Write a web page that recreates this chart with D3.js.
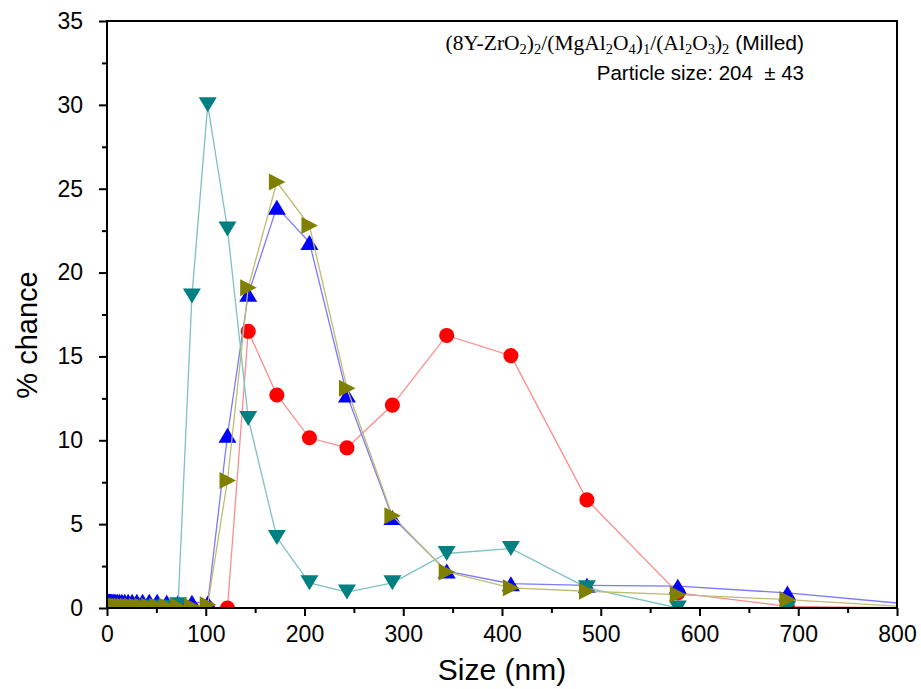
<!DOCTYPE html>
<html>
<head>
<meta charset="utf-8">
<script src="https://cdn.jsdelivr.net/npm/d3@7"></script>
<style>
  html, body { margin: 0; padding: 0; background: #fff; }
  svg { display: block; }
  .tick text { font-family: "Liberation Sans", Arial, sans-serif; }
</style>
</head>
<body>
<div id="chart"></div>
<script>
// ── Data ──
const sizes = [0.8, 1.0, 1.1, 1.3, 1.6, 1.9, 2.2, 2.7, 3.2, 3.8, 4.5, 5.3, 6.3, 7.5, 9.0,
  10.7, 12.7, 15.1, 18.0, 21.4, 25.4, 30.2, 36.0, 42.8, 50.8, 60.5,
  72, 86, 102, 122, 143, 172, 205, 243, 289, 344, 409, 486, 578, 689, 818];

const redVals = [0, 0, 0, 0, 0, 0, 0, 0, 0, 0, 0, 0, 0, 0, 0,
  0, 0, 0, 0, 0, 0, 0, 0, 0, 0, 0,
  0, 0, 0, 0, 16.5, 12.7, 10.15, 9.55, 12.1, 16.25, 15.05, 6.45, 0.9, 0.1, 0];

const blueVals = [0.4, 0.4, 0.4, 0.4, 0.4, 0.4, 0.4, 0.4, 0.4, 0.4, 0.4, 0.4, 0.4, 0.4, 0.4,
  0.4, 0.4, 0.4, 0.4, 0.4, 0.4, 0.4, 0.4, 0.4, 0.4, 0.35,
  0.35, 0.35, 0.3, 10.3, 18.7, 23.9, 21.8, 12.7, 5.4, 2.2, 1.45, 1.35, 1.3, 0.9, 0.2];

const tealVals = [0.05, 0.05, 0.05, 0.05, 0.05, 0.05, 0.05, 0.05, 0.05, 0.05, 0.05, 0.05, 0.05, 0.05, 0.05,
  0.05, 0.05, 0.05, 0.05, 0.05, 0.05, 0.05, 0.05, 0.05, 0.05, 0.05,
  0.2, 18.6, 30.0, 22.6, 11.3, 4.2, 1.5, 0.95, 1.5, 3.25, 3.55, 1.2, 0, 0, 0];

const oliveVals = [0.1, 0.1, 0.1, 0.1, 0.1, 0.1, 0.1, 0.1, 0.1, 0.1, 0.1, 0.1, 0.1, 0.1, 0.1,
  0.1, 0.1, 0.1, 0.1, 0.1, 0.1, 0.1, 0.1, 0.1, 0.1, 0.1,
  0.1, 0.1, 0.2, 7.6, 19.1, 25.4, 22.8, 13.1, 5.5, 2.15, 1.2, 1.0, 0.8, 0.5, 0.05];

const xTicks = [0, 100, 200, 300, 400, 500, 600, 700, 800];
const xMinor = [50, 150, 250, 350, 450, 550, 650, 750];
const yTicks = [0, 5, 10, 15, 20, 25, 30, 35];
const yMinor = [2.5, 7.5, 12.5, 17.5, 22.5, 27.5, 32.5];

(function () {
    "use strict";

    const W = 921, H = 689;
    const left = 107, right = 897, top = 21, bottom = 608;
    const sans = '"Liberation Sans", Arial, sans-serif';
    const serif = '"Liberation Serif", "Times New Roman", serif';

    // ── Series styles ──
    const series = [
        { vals: redVals,   shape: "circle", fill: "#ff0000", line: "#ff8c8c" },
        { vals: blueVals,  shape: "up",     fill: "#0000ff", line: "#7a7aff" },
        { vals: tealVals,  shape: "down",   fill: "#008080", line: "#7fc0c0" },
        { vals: oliveVals, shape: "right",  fill: "#808000", line: "#bdbd72" }
    ];

    const shapes = {
        circle: d3.symbol().type(d3.symbolCircle).size(180)(),
        up:    "M0,-7.5L9,7.5L-9,7.5Z",
        down:  "M0,7.5L9,-7.5L-9,-7.5Z",
        right: "M8.5,0L-8,-8.5L-8,8.5Z"
    };

    const svg = d3.select("#chart").append("svg")
        .attr("width", W).attr("height", H);

    const x = d3.scaleLinear().domain([0, 800]).range([left, right]);
    const y = d3.scaleLinear().domain([0, 35]).range([bottom, top]);

    svg.append("defs").append("clipPath").attr("id", "plot-clip")
        .append("rect")
        .attr("x", left).attr("y", top)
        .attr("width", right - left).attr("height", bottom - top);

    // ── Series ──
    const plot = svg.append("g").attr("clip-path", "url(#plot-clip)");
    const line = d3.line().x(d => x(d[0])).y(d => y(d[1]));

    series.forEach(s => {
        const pts = sizes.map((v, i) => [v, s.vals[i]]);
        const g = plot.append("g");
        g.append("path")
            .datum(pts)
            .attr("d", line)
            .attr("fill", "none")
            .attr("stroke", s.line)
            .attr("stroke-width", 1.3);
        g.selectAll("path.mark").data(pts).enter()
            .append("path")
            .attr("class", "mark")
            .attr("d", shapes[s.shape])
            .attr("transform", d => `translate(${x(d[0])},${y(d[1])})`)
            .attr("fill", s.fill);
    });

    // ── Axes ──
    const axisFont = g => g.selectAll("text")
        .attr("font-family", sans).attr("font-size", 23).attr("fill", "#000");

    svg.append("g")
        .attr("transform", `translate(0,${bottom})`)
        .call(d3.axisBottom(x).tickValues(xMinor).tickSize(5).tickFormat(""))
        .call(g => g.select(".domain").remove())
        .call(g => g.selectAll("line").attr("stroke-width", 2));

    svg.append("g")
        .attr("transform", `translate(0,${bottom})`)
        .call(d3.axisBottom(x).tickValues(xTicks).tickSize(8).tickPadding(10).tickFormat(d3.format("d")))
        .call(g => g.select(".domain").remove())
        .call(g => g.selectAll("line").attr("stroke-width", 2))
        .call(axisFont);

    svg.append("g")
        .attr("transform", `translate(${left},0)`)
        .call(d3.axisLeft(y).tickValues(yMinor).tickSize(5).tickFormat(""))
        .call(g => g.select(".domain").remove())
        .call(g => g.selectAll("line").attr("stroke-width", 2));

    svg.append("g")
        .attr("transform", `translate(${left},0)`)
        .call(d3.axisLeft(y).tickValues(yTicks).tickSize(8).tickPadding(16).tickFormat(d3.format("d")))
        .call(g => g.select(".domain").remove())
        .call(g => g.selectAll("line").attr("stroke-width", 2))
        .call(axisFont);

    // frame
    svg.append("rect")
        .attr("x", left).attr("y", top)
        .attr("width", right - left).attr("height", bottom - top)
        .attr("fill", "none").attr("stroke", "#000").attr("stroke-width", 2);

    // ── Titles ──
    svg.append("text")
        .attr("x", 502).attr("y", 680)
        .attr("text-anchor", "middle")
        .attr("font-family", sans).attr("font-size", 30)
        .text("Size (nm)");

    svg.append("text")
        .attr("transform", "translate(37,335) rotate(-90)")
        .attr("text-anchor", "middle")
        .attr("font-family", sans).attr("font-size", 29)
        .text("% chance");

    // ── Annotation ──
    const note = svg.append("text")
        .attr("x", 804).attr("y", 50)
        .attr("text-anchor", "end")
        .attr("font-family", serif).attr("font-size", 21.5);
    const parts = [
        ["(8Y-ZrO"], ["2", 1], [")"], ["2", 1], ["/(MgAl"], ["2", 1], ["O"], ["4", 1],
        [")"], ["1", 1], ["/(Al"], ["2", 1], ["O"], ["3", 1], [")"], ["2", 1]
    ];
    let shifted = false;
    parts.forEach(([t, sub]) => {
        const ts = note.append("tspan").text(t);
        if (sub && !shifted) { ts.attr("dy", 4).attr("font-size", 14.5); shifted = true; }
        else if (sub) { ts.attr("font-size", 14.5); }
        else if (shifted) { ts.attr("dy", -4); shifted = false; }
    });
    note.append("tspan").attr("dy", shifted ? -4 : 0)
        .attr("font-family", sans).attr("font-size", 21)
        .text("\u00a0(Milled)");

    svg.append("text")
        .attr("x", 804).attr("y", 80)
        .attr("text-anchor", "end")
        .attr("font-family", sans).attr("font-size", 20.5)
        .attr("xml:space", "preserve")
        .style("white-space", "pre")
        .text("Particle size: 204  \u00b1 43");
})();
</script>
</body>
</html>
